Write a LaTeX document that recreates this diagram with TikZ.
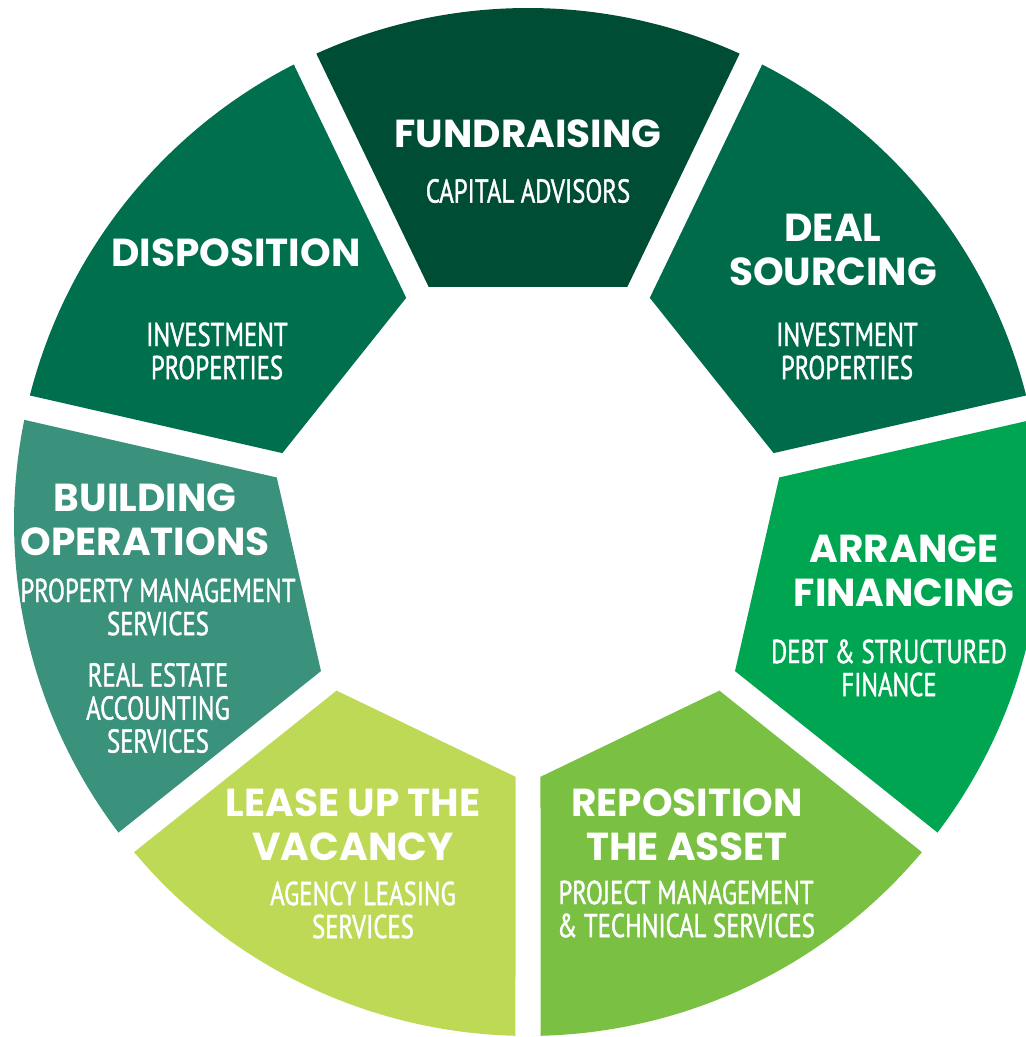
\documentclass[tikz,border=0pt]{standalone}
\usepackage{fontspec}
\newfontfamily\titlefont{Poppins}
\newfontfamily\subfont[FakeStretch=0.75,FakeBold=1.2]{PT Sans}

\definecolor{fundcol}{HTML}{004D36}
\definecolor{dealcol}{HTML}{006B4A}
\definecolor{arrcol}{HTML}{00A551}
\definecolor{repcol}{HTML}{7AC143}
\definecolor{leasecol}{HTML}{BED955}
\definecolor{buildcol}{HTML}{3A917C}
\definecolor{dispcol}{HTML}{006F4E}

\tikzset{
  title/.style={text=white,align=center,inner sep=0pt,
    font={\titlefont\bfseries\fontsize{11.1}{12.6}\selectfont}},
  sub/.style={text=white,align=center,inner sep=0pt,
    font={\subfont\fontsize{9.4}{9.4}\selectfont}}
}

\begin{document}
\begin{tikzpicture}
		\useasboundingbox (-5.28,-5.15) rectangle (4.98,5.22);
		\clip (-5.28,-5.15) rectangle (4.98,5.22);
		
		% seven ring pieces, clockwise from the top
		\foreach \ang/\col in {0/fundcol,-51.4286/dealcol,-102.857/arrcol,-154.286/repcol,-205.714/leasecol,-257.143/buildcol,-308.571/dispcol}{
			\fill[\col,rotate=\ang] (0.993,2.35) -- (65.68:5.14) arc[start angle=65.68,end angle=114.32,radius=5.14] -- (-0.993,2.35) -- cycle;
		}
		
		\node[title] (fund) at (0,3.88) {FUNDRAISING};
		\node[sub] (fundsub) at (0,3.31) {CAPITAL ADVISORS};
		
		\node[title] (deal) at (3.05,2.72) {DEAL\\SOURCING};
		\node[sub] (dealsub) at (3.19,1.71) {INVESTMENT\\PROPERTIES};
		
		\node[title] (arr) at (3.76,-0.49) {ARRANGE\\FINANCING};
		\node[sub] (arrsub) at (3.61,-1.46) {DEBT \& STRUCTURED\\FINANCE};
		
		\node[title] (rep) at (1.59,-3.03) {REPOSITION\\THE ASSET};
		\node[sub] (repsub) at (1.58,-3.87) {PROJECT MANAGEMENT\\\& TECHNICAL SERVICES};
		
		\node[title] (lease) at (-1.75,-3.03) {LEASE UP THE\\VACANCY};
		\node[sub] (leasesub) at (-1.65,-3.88) {AGENCY LEASING\\SERVICES};
		
		\node[title] (build) at (-3.83,0.02) {BUILDING\\OPERATIONS};
		\node[sub] (buildsub) at (-3.70,-0.85) {PROPERTY MANAGEMENT\\SERVICES};
		\node[sub] (buildsubb) at (-3.70,-1.86) {REAL ESTATE\\ACCOUNTING\\SERVICES};
		
		\node[title] (disp) at (-2.92,2.69) {DISPOSITION};
		\node[sub] (dispsub) at (-3.11,1.71) {INVESTMENT\\PROPERTIES};
\end{tikzpicture}
\end{document}
